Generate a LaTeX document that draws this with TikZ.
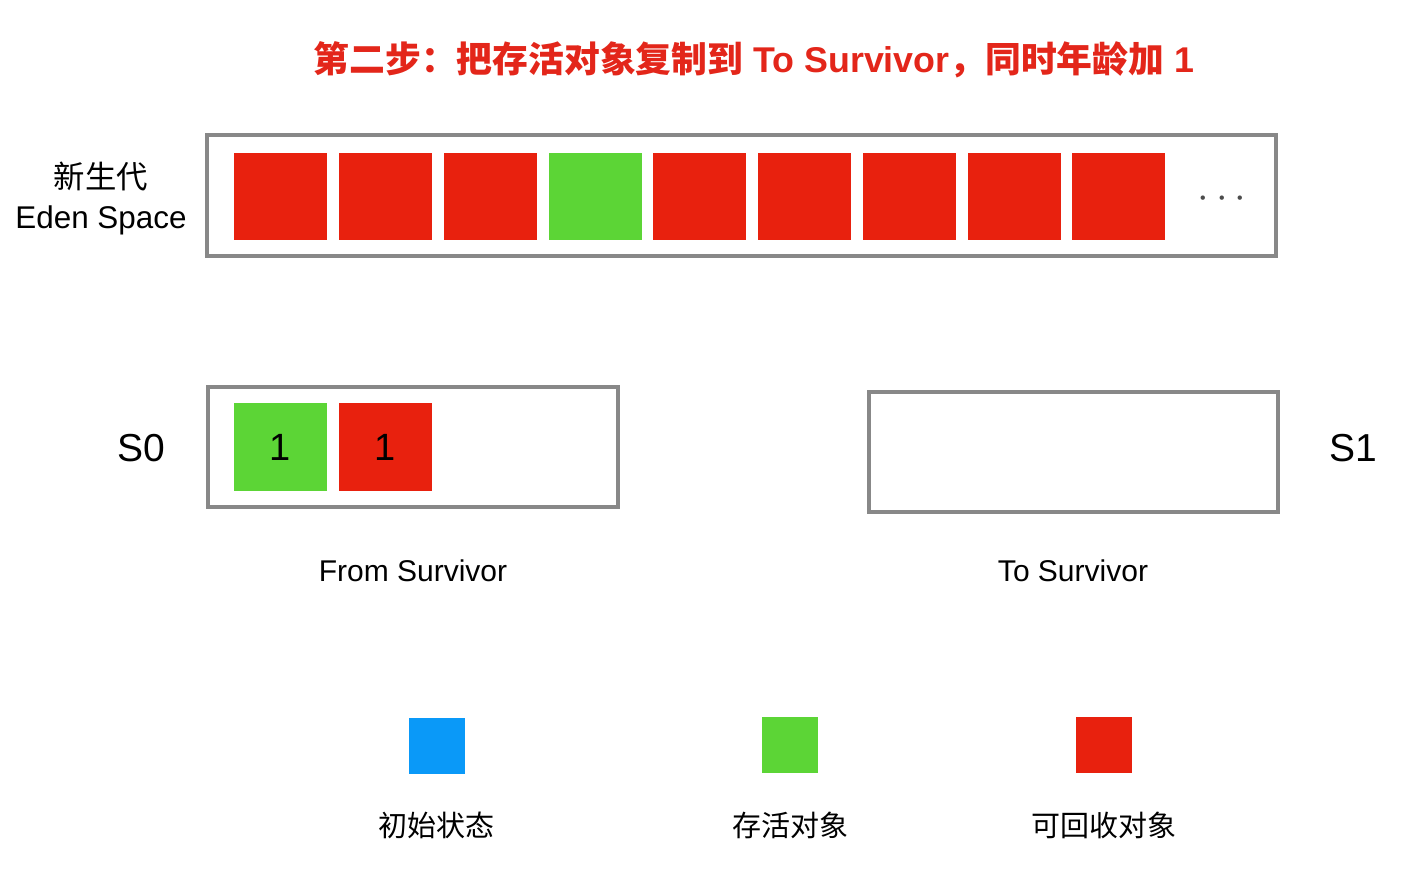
\documentclass[tikz,border=0pt]{standalone}
\usepackage{fontspec}
\setmainfont{Liberation Sans}
\newfontfamily\cjk{Noto Sans CJK SC}
\usepackage{xcolor}
\usetikzlibrary{positioning}
\definecolor{objred}{HTML}{E8210E}
\definecolor{objgreen}{HTML}{5CD536}
\definecolor{objblue}{HTML}{0A99F8}
\definecolor{spacegray}{HTML}{888888}
\definecolor{titlered}{HTML}{E3261A}

\begin{document}
\begin{tikzpicture}[
  x=0.5pt, y=-0.5pt,
  font=\fontsize{15}{18}\selectfont,
  space/.style={draw=spacegray, line width=2pt, fill=white, inner sep=0pt},
  obj/.style={inner sep=0pt, minimum width=46.5pt, minimum height=43.5pt, font=\fontsize{19}{22}\selectfont},
  dead/.style={obj, fill=objred},
  live/.style={obj, fill=objgreen},
  init/.style={obj, fill=objblue},
  key/.style={inner sep=0pt, minimum width=28pt, minimum height=28pt},
  lbl/.style={font=\fontsize{15}{18}\selectfont},
  sname/.style={font=\fontsize{19.5}{22}\selectfont}
]
\useasboundingbox (0,0) rectangle (1416,888);
% Title
\node[text=titlered, font=\fontsize{17.9}{21}\selectfont\bfseries] (title) at (754,60)
  {{\cjk\bfseries 第二步：把存活对象复制到} To Survivor{\cjk\bfseries ，同时年龄加} 1};
% Eden
\node[space, minimum width=534.5pt, minimum height=60.5pt] (eden) at (741.5,195.5) {};
\node[lbl, align=center, font=\fontsize{15.7}{19}\selectfont] (edenname) at (101,199) {{\cjk 新生代}\\[1pt]Eden Space};
\node[dead] (e1) at (280.5,196.5) {};
\node[dead] (e2) at (385,196.5) {};
\node[dead] (e3) at (490,196.5) {};
\node[live] (e4) at (595,196.5) {};
\node[dead] (e5) at (699.5,196.5) {};
\node[dead] (e6) at (804,196.5) {};
\node[dead] (e7) at (909,196.5) {};
\node[dead] (e8) at (1014,196.5) {};
\node[dead] (e9) at (1118.5,196.5) {};
\node[text=black!70, font=\fontsize{21}{24}\selectfont] (more) at (1222,199) {$\cdots$};
% Survivor spaces
\node[space, minimum width=205pt, minimum height=60pt] (from) at (413,447) {};
\node[space, minimum width=204.5pt, minimum height=60pt] (to) at (1073.5,452) {};
\node[sname] (s0) at (141,448) {S0};
\node[sname] (s1) at (1353,448) {S1};
\node[live, minimum height=44pt] (f1) at (280.5,447) {1};
\node[dead, minimum height=44pt] (f2) at (385,447) {1};
\node[lbl] (fromname) at (413,571) {From Survivor};
\node[lbl] (toname) at (1073,571) {To Survivor};
% Legend
\node[key, fill=objblue] (kinit) at (436.5,746) {};
\node[key, fill=objgreen] (klive) at (790,744.5) {};
\node[key, fill=objred] (kdead) at (1104,744.5) {};
\node[lbl, font=\cjk\fontsize{14.5}{17}\selectfont] (kinitname) at (436.5,825) {初始状态};
\node[lbl, font=\cjk\fontsize{14.5}{17}\selectfont] (klivename) at (790,825) {存活对象};
\node[lbl, font=\cjk\fontsize{14.5}{17}\selectfont] (kdeadname) at (1104,825) {可回收对象};
\end{tikzpicture}
\end{document}
